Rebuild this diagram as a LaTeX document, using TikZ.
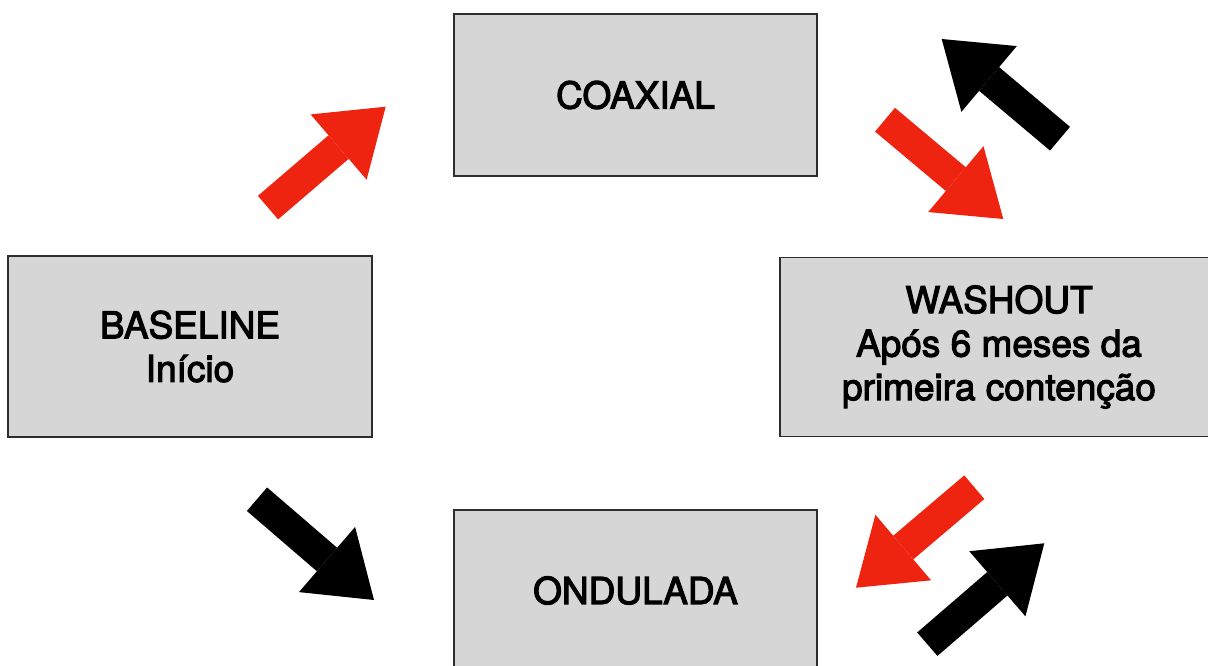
\documentclass[tikz,border=0pt]{standalone}
\usepackage{fontspec}
\setmainfont[FakeBold=3]{TeX Gyre Heros}
\usetikzlibrary{arrows.meta,positioning}
\definecolor{arrowred}{RGB}{238,36,16}
\definecolor{boxgray}{RGB}{214,214,214}
\definecolor{boxline}{RGB}{45,45,45}
\begin{document}
\begin{tikzpicture}[x=1pt,y=-1pt,
  graybox/.style={rectangle,draw=boxline,line width=1.6pt,fill=boxgray,align=center,inner sep=0pt,
    font=\fontsize{37}{43.5}\selectfont},
  fatarrow/.style={line width=31pt,-{Triangle[length=62pt,width=86pt,line width=0pt]}},
  redarrow/.style={fatarrow,draw=arrowred,fill=arrowred},
  blackarrow/.style={fatarrow,draw=black,fill=black}]
\useasboundingbox (0,0) rectangle (1208,666);
       \node [graybox,minimum width=363,minimum height=162] (coax) at (635.5,95) {COAXIAL};
       \node [graybox,minimum width=364,minimum height=181] (base) at (190,346.5) {BASELINE\\In\'icio};
       \node [graybox,minimum width=438,minimum height=179] (wash) at (999,347) {WASHOUT\\Após 6 meses da\\primeira contenção};
       \node [graybox,minimum width=363,minimum height=161] (ond) at (635.5,590.5) {ONDULADA};
\coordinate (a1) at (268,207.6) ; \coordinate (b1) at (385.7,106.7) ;
\coordinate (a2) at (885,119.7) ; \coordinate (b2) at (1003.3,219) ;
\coordinate (a3) at (1060,138.7) ; \coordinate (b3) at (941.7,39) ;
\coordinate (a4) at (974.3,487.2) ; \coordinate (b4) at (856,587.7) ;
\coordinate (a5) at (927.3,644.2) ; \coordinate (b5) at (1044.3,543.3) ;
\coordinate (a6) at (257,499.2) ; \coordinate (b6) at (374,600) ;
\draw [redarrow] (a1)--(b1) ;
\draw [redarrow] (a2)--(b2) ;
\draw [blackarrow] (a3)--(b3) ;
\draw [redarrow] (a4)--(b4) ;
\draw [blackarrow] (a5)--(b5) ;
\draw [blackarrow] (a6)--(b6) ;
\end{tikzpicture}
\end{document}
